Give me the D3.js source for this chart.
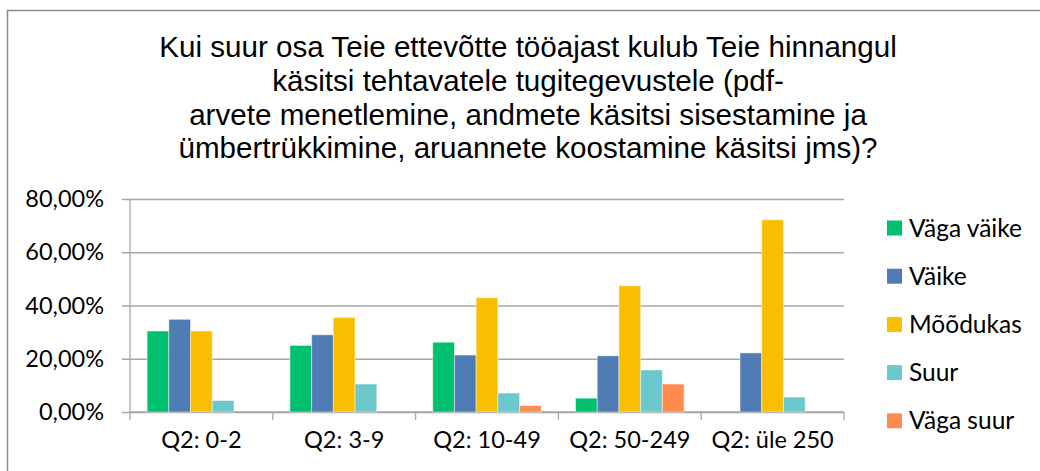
<!DOCTYPE html>
<html>
<head>
<meta charset="utf-8">
<script src="https://cdn.jsdelivr.net/npm/d3@7"></script>
<style>
  body { margin: 0; background: #fff; }
  svg { display: block; }
</style>
</head>
<body>
<svg id="chart" width="1040" height="471"></svg>
<script>
const categories = ["Q2: 0-2", "Q2: 3-9", "Q2: 10-49", "Q2: 50-249", "Q2: üle 250"];
const seriesNames = ["Väga väike", "Väike", "Mõõdukas", "Suur", "Väga suur"];
const seriesColors = ["#00bf6f", "#507cb6", "#f9be00", "#6bc8cd", "#ff8b4f"];
// values in %, one array per series, in category order
const vagaVaike = [30.4, 25.0, 26.2, 5.2, 0];
const vaike     = [34.8, 29.0, 21.4, 21.1, 22.2];
const moodukas  = [30.4, 35.5, 42.9, 47.4, 72.2];
const suur      = [4.3, 10.5, 7.1, 15.8, 5.6];
const vagaSuur  = [0, 0, 2.4, 10.5, 0];
const yTicks = [0, 20, 40, 60, 80];
const titleLines = [
  "Kui suur osa Teie ettevõtte tööajast kulub Teie hinnangul",
  "käsitsi tehtavatele tugitegevustele (pdf-",
  "arvete menetlemine, andmete käsitsi sisestamine ja",
  "ümbertrükkimine, aruannete koostamine käsitsi jms)?"
];

const seriesValues = [vagaVaike, vaike, moodukas, suur, vagaSuur];

const svg = d3.select("#chart");
const plotLeft = 130, plotRight = 844, plotTop = 199, plotBottom = 412;
const labelFont = "Lato, 'Open Sans', sans-serif";

// frame lines of the surrounding box
svg.append("path")
  .attr("d", "M7.5,471 V10.5 H1040")
  .attr("fill", "none")
  .attr("stroke", "#8c8c8c")
  .attr("stroke-width", 1.5);

// title
svg.append("g")
  .selectAll("text")
  .data(titleLines)
  .join("text")
    .attr("x", 528)
    .attr("y", (d, i) => 57 + i * 33.8)
    .attr("text-anchor", "middle")
    .style("font-family", "'Liberation Sans', Arial, sans-serif")
    .style("font-size", "29.6px")
    .style("fill", "#000")
    .text(d => d);

const x = d3.scaleBand()
  .domain(categories)
  .range([plotLeft, plotRight])
  .paddingInner(0.24)
  .paddingOuter(0.12);

const xSeries = d3.scaleBand()
  .domain(seriesNames)
  .range([0, x.bandwidth()])
  .padding(0);

const y = d3.scaleLinear()
  .domain([0, 80])
  .range([plotBottom, plotTop]);

// gridlines + y labels
const yAxis = svg.append("g")
  .attr("transform", `translate(${plotLeft - 8},0)`)
  .call(d3.axisLeft(y)
    .tickValues(yTicks)
    .tickSize(-(plotRight - plotLeft + 8))
    .tickPadding(18)
    .tickFormat(d => d3.format(".2f")(d).replace(".", ",") + "%"));
yAxis.select(".domain").remove();
yAxis.selectAll(".tick line")
  .attr("stroke", "#a6a6a6")
  .attr("stroke-width", 1.3);
yAxis.selectAll(".tick text")
  .style("font-family", labelFont)
  .style("font-size", "23.5px")
  .style("fill", "#000");

// vertical axis line
svg.append("line")
  .attr("x1", plotLeft).attr("x2", plotLeft)
  .attr("y1", plotTop).attr("y2", plotBottom)
  .attr("stroke", "#a6a6a6")
  .attr("stroke-width", 1.3);

// x axis labels
const xAxis = svg.append("g")
  .attr("transform", `translate(0,${plotBottom})`)
  .call(d3.axisBottom(x).tickSize(0).tickPadding(19));
xAxis.select(".domain").remove();
xAxis.selectAll(".tick text")
  .style("font-family", labelFont)
  .style("font-size", "23.5px")
  .style("fill", "#000");

// x baseline and category boundary ticks
svg.append("line")
  .attr("x1", plotLeft).attr("x2", plotRight)
  .attr("y1", plotBottom).attr("y2", plotBottom)
  .attr("stroke", "#a6a6a6")
  .attr("stroke-width", 1.3);
const boundaries = d3.range(categories.length + 1).map(i => plotLeft + i * x.step());
svg.append("g")
  .selectAll("line")
  .data(boundaries)
  .join("line")
    .attr("x1", d => d).attr("x2", d => d)
    .attr("y1", plotBottom).attr("y2", plotBottom + 8)
    .attr("stroke", "#a6a6a6")
    .attr("stroke-width", 1.3);

// bars
const barData = [];
seriesNames.forEach((s, si) => {
  categories.forEach((c, ci) => {
    barData.push({ series: s, cat: c, value: seriesValues[si][ci], color: seriesColors[si] });
  });
});

svg.append("g")
  .selectAll("rect")
  .data(barData.filter(d => d.value > 0))
  .join("rect")
    .attr("x", d => x(d.cat) + xSeries(d.series))
    .attr("y", d => y(d.value))
    .attr("width", xSeries.bandwidth())
    .attr("height", d => plotBottom - y(d.value))
    .attr("fill", d => d.color)
    .attr("stroke", "rgba(255,255,255,0.45)")
    .attr("stroke-width", 1);

// legend
const legend = svg.append("g")
  .selectAll("g")
  .data(seriesNames)
  .join("g")
    .attr("transform", (d, i) => `translate(887,${228 + i * 48.2})`);
legend.append("rect")
  .attr("x", 0).attr("y", -7.5)
  .attr("width", 15).attr("height", 15)
  .attr("fill", (d, i) => seriesColors[i]);
legend.append("text")
  .attr("x", 22)
  .attr("y", 0)
  .attr("dy", "0.35em")
  .style("font-family", labelFont)
  .style("font-size", "24.5px")
  .style("fill", "#000")
  .text(d => d);
</script>
</body>
</html>
